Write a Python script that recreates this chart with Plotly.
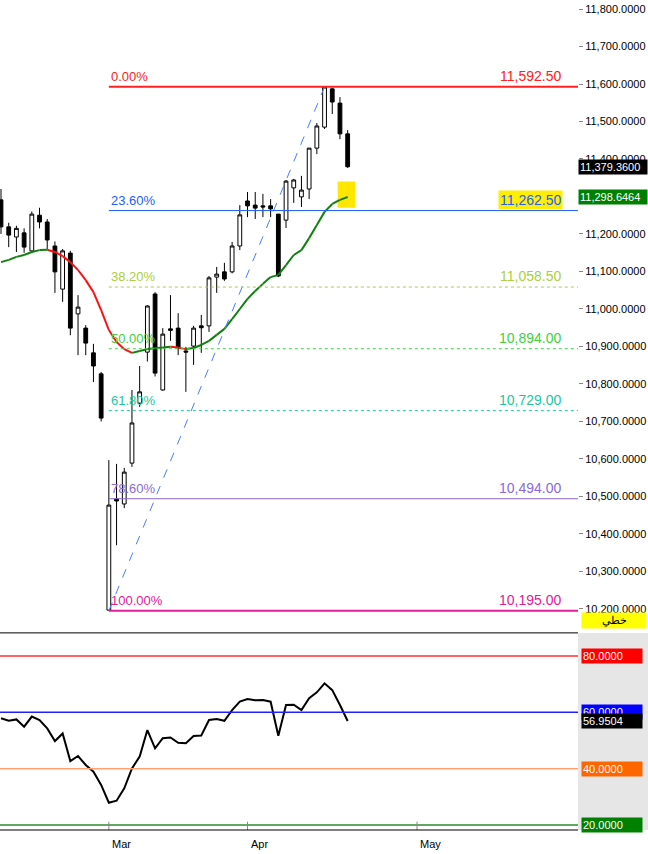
import plotly.graph_objects as go

opens  = [11291,11219,11192,11203,11155,11250,11232,11168,11053,11149,10987,10949,10883,10827,10197,10493,10480,10589,10749,10885,11040,10784,10947,10949,10888,10901,10955,10955,11085,11099,11099,11168,11288,11277,11275,11275,11253,11237,11323,11299,11320,11429,11485,11587,11549,11467]
highs  = [11320,11230,11222,11215,11260,11270,11240,11180,11160,11155,11037,10957,10907,10832,10597,10587,10576,10784,10848,11010,11045,10949,11037,10989,10899,10955,10984,11088,11112,11123,11179,11277,11312,11312,11307,11293,11253,11344,11347,11355,11429,11496,11592.5,11590,11565,11477]
lows   = [11200,11165,11152,11150,11150,11215,11160,11043,11019,10930,10877,10877,10805,10700,10195,10370,10469,10579,10739,10860,10820,10782,10915,10877,10779,10851,10883,10939,11043,11075,11095,11157,11245,11240,11245,11245,11085,11216,11283,11272,11293,11413,11480,11520,11453,11376]
closes = [11219,11197,11215,11165,11253,11232,11184,11099,11155,10949,11005,10909,10848,10709,10477,10488,10565,10696,10779,11008,10829,10933,10943,10896,10885,10949,10950,11083,11093,11080,11168,11251,11275,11269,11272,11267,11088,11341,11344,11317,11429,11488,11592,11552,11467,11379.36]
ma = [11125,11131,11139,11144,11152,11157,11158,11152,11141,11125,11104,11077,11045,10997,10944,10912,10893,10883,10888,10893,10895,10897,10899,10897,10893,10896,10904,10915,10931,10947,10973,11000,11027,11048,11067,11085,11091,11117,11144,11157,11189,11224,11259,11280,11291,11298.6464]
osc = [57.9,57.0,57.5,54.9,58.5,57.3,54.3,49.8,52.5,42.7,44.5,41.3,38.9,34.2,27.9,28.6,33.0,40.1,44.3,53.7,47.2,50.8,51.1,49.2,49.0,51.6,51.8,57.3,57.6,57.0,60.8,63.8,64.7,64.3,64.4,63.8,51.7,62.6,62.7,60.8,65.0,67.1,70.3,67.9,62.6,56.9504]
fib_pct = ["0.00%","23.60%","38.20%","50.00%","61.80%","78.60%","100.00%"]
fib_val = [11592.5,11262.5,11058.5,10894.0,10729.0,10494.0,10195.0]
fib_col = ["#ff2020","#2060ff","#a8d040","#40d040","#20c8a0","#8a6ad8","#e0209a"]
fib_dash = ["solid","solid","dot","dot","dot","solid","solid"]
osc_levels = [80,60,40,20]
osc_lcol = ["#ff3030","#2020ff","#ffa070","#2e8b2e"]
osc_bcol = ["#ff0000","#0000ff","#ff6600","#008000"]
month_idx = [14,32,54]
month_lbl = ["Mar","Apr","May"]

X = list(range(len(closes)))
XR = [-0.13, 74.9]
fig = go.Figure()
fig.add_trace(go.Candlestick(x=X, open=opens, high=highs, low=lows, close=closes,
    increasing=dict(line=dict(color="black", width=1), fillcolor="white"),
    decreasing=dict(line=dict(color="black", width=1), fillcolor="black"),
    whiskerwidth=0, showlegend=False, xaxis="x", yaxis="y"))
gx, gy, rx, ry = [], [], [], []
for i in range(len(ma)-1):
    if ma[i+1] >= ma[i]:
        gx += [X[i], X[i+1], None]; gy += [ma[i], ma[i+1], None]
    else:
        rx += [X[i], X[i+1], None]; ry += [ma[i], ma[i+1], None]
fig.add_trace(go.Scatter(x=gx, y=gy, mode="lines", line=dict(color="#108010", width=2), showlegend=False))
fig.add_trace(go.Scatter(x=rx, y=ry, mode="lines", line=dict(color="#ff1010", width=2), showlegend=False))
lo_i = lows.index(min(lows)); hi_i = highs.index(max(highs))
fig.add_trace(go.Scatter(x=[X[lo_i], X[hi_i]], y=[lows[lo_i], highs[hi_i]], mode="lines",
    line=dict(color="#4a7cff", width=1, dash="dash"), showlegend=False))
fig.add_trace(go.Scatter(x=X, y=osc, mode="lines", line=dict(color="black", width=2),
    showlegend=False, xaxis="x2", yaxis="y2"))

shapes, ann = [], []
shapes.append(dict(type="rect", xref="paper", yref="paper", x0=1.0, x1=1.125, y0=0, y1=0.2375,
                   fillcolor="#e6e6e6", line=dict(width=0), layer="below"))
for p, v, c, d in zip(fib_pct, fib_val, fib_col, fib_dash):
    shapes.append(dict(type="line", xref="x", yref="y", x0=lo_i, x1=XR[1], y0=v, y1=v,
                       line=dict(color=c, width=2 if p in ("0.00%","100.00%") else 1, dash=d)))
    ann.append(dict(xref="x", yref="y", x=lo_i, y=v, text=p, showarrow=False, xanchor="left",
                    yanchor="bottom", font=dict(color=c, size=13), yshift=1))
    ann.append(dict(xref="x", yref="y", x=73.0, y=v, text=f"{v:,.2f}", showarrow=False, xanchor="right",
                    yanchor="bottom", font=dict(color=c, size=14), yshift=1,
                    bgcolor="#ffee00" if p=="23.60%" else None))
shapes.append(dict(type="rect", xref="x", yref="y", x0=43.7, x1=46.0, y0=11270, y1=11340,
                   fillcolor="#ffe600", line=dict(width=0), layer="below"))
for lv, lc, bc in zip(osc_levels, osc_lcol, osc_bcol):
    shapes.append(dict(type="line", xref="x2", yref="y2", x0=XR[0], x1=XR[1], y0=lv, y1=lv,
                       line=dict(color=lc, width=1.5)))
    ann.append(dict(xref="paper", yref="y2", x=1.005, y=lv, text=f"{lv:.4f}", showarrow=False,
                    xanchor="left", font=dict(color="white", size=11, family="Liberation Sans"), bgcolor=bc, width=58, align="left"))
ann.append(dict(xref="paper", yref="y2", x=1.005, y=osc[-1], text="56.9504", showarrow=False,
                xanchor="left", font=dict(color="white", size=11, family="Liberation Sans"), bgcolor="black", width=58, align="left"))
ann.append(dict(xref="paper", yref="y", x=1.0, y=closes[-1], text="11,379.3600", showarrow=False,
                xanchor="left", font=dict(color="white", size=11, family="Liberation Sans"), bgcolor="black", width=66, align="left"))
ann.append(dict(xref="paper", yref="y", x=1.0, y=ma[-1], text="11,298.6464", showarrow=False,
                xanchor="left", font=dict(color="white", size=11, family="Liberation Sans"), bgcolor="#008000", width=66, align="left"))
ann.append(dict(xref="paper", yref="y", x=1.005, y=10170, text="خطي", showarrow=False, xanchor="left",
                font=dict(color="black", size=11), bgcolor="#ffff00", width=62))
for mi, ml in zip(month_idx, month_lbl):
    ann.append(dict(xref="x2", yref="paper", x=mi, y=0, text=ml, showarrow=False, xanchor="left",
                    yanchor="top", xshift=1, yshift=-6, font=dict(size=11, color="black", family="Liberation Sans")))
    shapes.append(dict(type="line", xref="x2", yref="paper", x0=mi, x1=mi, y0=0, y1=0.01,
                       line=dict(color="#888", width=1)))
shapes.append(dict(type="line", xref="paper", yref="paper", x0=0, x1=1, y0=0.2375, y1=0.2375,
                   line=dict(color="black", width=1)))
shapes.append(dict(type="line", xref="paper", yref="paper", x0=0, x1=1, y0=0, y1=0,
                   line=dict(color="black", width=1)))

fig.update_layout(width=648, height=854, margin=dict(l=0, r=70, t=0, b=24, autoexpand=False),
    paper_bgcolor="white", plot_bgcolor="white", shapes=shapes, annotations=ann,
    font=dict(family="Liberation Sans"), showlegend=False,
    xaxis=dict(range=XR, domain=[0,1], showticklabels=False, showgrid=False, zeroline=False,
               rangeslider=dict(visible=False), anchor="y", automargin=False),
    xaxis2=dict(range=XR, domain=[0,1], showticklabels=False, showgrid=False, zeroline=False,
                anchor="y2", matches="x", automargin=False),
    yaxis=dict(domain=[0.2386,1], range=[10138.7,11824], side="right", tickformat=",.4f", dtick=100,
               showgrid=False, zeroline=False, ticks="outside", ticklen=4, tickcolor="#888",
               tickfont=dict(size=11, color="black"), automargin=False),
    yaxis2=dict(domain=[0,0.236], range=[18.2,87.8], side="right", showticklabels=False,
                showgrid=False, zeroline=False, automargin=False))
fig.write_html("out.html", config={"displayModeBar": False},
               post_script="document.body.style.margin='0';document.body.style.overflow='hidden';")
